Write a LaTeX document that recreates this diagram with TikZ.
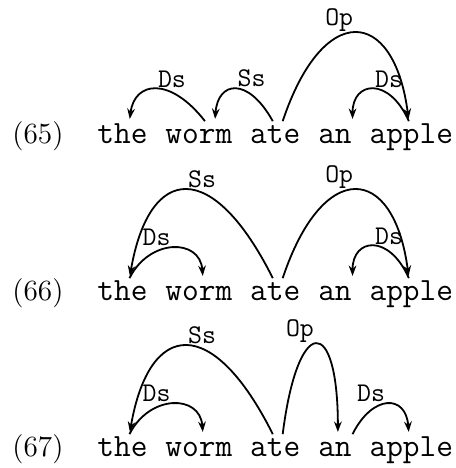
\documentclass[tikz,border=0pt,12pt]{standalone}
\usepackage{tikz}
\usetikzlibrary{arrows.meta,positioning}

\begin{document}
\begin{tikzpicture}[
x=0.444pt, y=0.444pt,
word/.style={font=\ttfamily\large, inner sep=0pt, text height=9.5pt, anchor=base west},
num/.style={font=\fontsize{13}{15}\selectfont, inner sep=0pt, anchor=base west},
lnk/.style={thick, -{Stealth[length=4.6pt,width=3.4pt]}, shorten >=1pt},
lbl/.style={font=\ttfamily, inner sep=0.5pt}
]
\useasboundingbox (0,0) rectangle (456,-468);
\foreach \n/\y in {65/143,66/300,67/456}{
\node[num] (num\n) at (12,-\y) {(\n)};
\node[word] (the\n) at (97,-\y) {the};
\node[word, base right=7.56pt of the\n] (worm\n) {worm};
\node[word, base right=7.56pt of worm\n] (ate\n) {ate};
\node[word, base right=7.56pt of ate\n] (an\n) {an};
\node[word, base right=7.56pt of an\n] (apple\n) {apple};
}
% (65)
\draw[lnk] ([xshift=2.7pt]worm65.north) .. controls +(-35,45) and +(5,40) .. ([xshift=3.1pt]the65.north) node[lbl, midway, above right] {Ds};
\draw[lnk] ([xshift=-1.1pt]ate65.north) .. controls +(-25,45) and +(3,40) .. ([xshift=7.1pt]worm65.north) node[lbl, midway, above right] {Ss};
\draw[lnk] ([xshift=3.3pt]ate65.north) .. controls +(40,120) and +(-15,115) .. ([xshift=-1.1pt]apple65.north) node[lbl, midway, above left] {Op};
\draw[lnk] ([xshift=-1.1pt]apple65.north) .. controls +(-20,45) and +(0,40) .. ([xshift=7.8pt]an65.north) node[lbl, midway, above right] {Ds};
% (66)
\draw[lnk] ([xshift=-1.1pt]ate66.north) .. controls +(-60,120) and +(20,115) .. ([xshift=3.1pt]the66.north) node[lbl, midway, above right] {Ss};
\draw[lnk] ([xshift=3.1pt]the66.north) .. controls +(20,40) and +(-3,40) .. ([xshift=1.8pt]worm66.north) node[lbl, midway, above left] {Ds};
\draw[lnk] ([xshift=3.3pt]ate66.north) .. controls +(40,120) and +(-15,115) .. ([xshift=-1.1pt]apple66.north) node[lbl, midway, above left] {Op};
\draw[lnk] ([xshift=-1.1pt]apple66.north) .. controls +(-20,45) and +(0,40) .. ([xshift=7.8pt]an66.north) node[lbl, midway, above right] {Ds};
% (67)
\draw[lnk] ([xshift=-1.1pt]ate67.north) .. controls +(-60,120) and +(20,115) .. ([xshift=3.1pt]the67.north) node[lbl, midway, above right] {Ss};
\draw[lnk] ([xshift=3.1pt]the67.north) .. controls +(20,40) and +(-3,40) .. ([xshift=1.8pt]worm67.north) node[lbl, midway, above left] {Ds};
\draw[lnk] ([xshift=3.3pt]ate67.north) .. controls +(15,120) and +(0,120) .. ([xshift=1.3pt]an67.north) node[lbl, midway, above left] {Op};
\draw[lnk] ([xshift=7.8pt]an67.north) .. controls +(20,40) and +(-3,40) .. ([xshift=-1.1pt]apple67.north) node[lbl, midway, above left] {Ds};
\end{tikzpicture}
\end{document}
